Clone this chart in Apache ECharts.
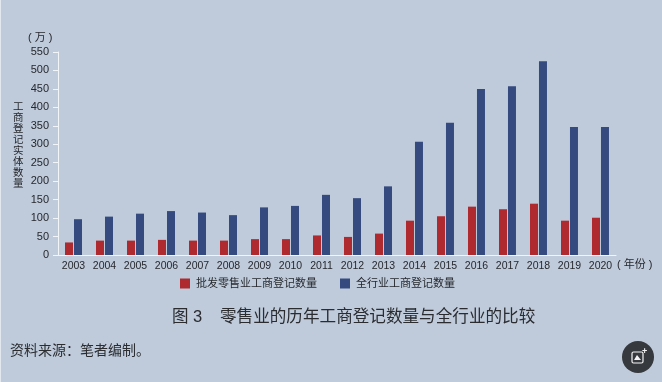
<!DOCTYPE html>
<html><head><meta charset="utf-8">
<style>html,body{margin:0;padding:0;background:#bfcbdb}#c{width:662px;height:382px}</style>
<script src="https://cdn.jsdelivr.net/npm/echarts@6/dist/echarts.min.js"></script>
</head><body><div id="c"></div>
<script>
const years=['2003','2004','2005','2006','2007','2008','2009','2010','2011','2012','2013','2014','2015','2016','2017','2018','2019','2020'];
const retail=[34,39,39,41,39,39,43,43,53,49,58,93,105,131,124,139,93,101];
const allIndustry=[97,104,112,119,115,108,129,133,163,154,186,307,358,450,457,525,347,347];
const retailName='批发零售业工商登记数量';
const allName='全行业工商登记数量';
const cjk='"Liberation Sans","Noto Sans CJK SC",sans-serif';
const ink='#26282d';
const chart=echarts.init(document.getElementById('c'),null,{renderer:'canvas'});
chart.setOption({
  animation:false,
  backgroundColor:'#bfcbdb',
  textStyle:{fontFamily:cjk},
  grid:{left:58,top:52,width:558,height:203,containLabel:false},
  legend:{left:175,top:273,itemWidth:10,itemHeight:10,itemGap:23,icon:'rect',
    textStyle:{fontFamily:cjk,fontSize:11,color:ink,padding:[0,0,0,1]},
    data:[retailName,allName]},
  xAxis:{type:'category',data:years,
    axisLine:{lineStyle:{color:'#f2f5f8',width:1}},axisTick:{show:false},
    axisLabel:{color:ink,fontSize:10.5,margin:6,interval:0,fontFamily:cjk}},
  yAxis:{type:'value',min:0,max:550,interval:50,
    axisLine:{show:true,lineStyle:{color:'#f2f5f8',width:1}},
    axisTick:{show:true,length:5,lineStyle:{color:'#f2f5f8'}},
    splitLine:{show:false},
    axisLabel:{color:ink,fontSize:11,margin:9,fontFamily:cjk}},
  series:[
    {name:retailName,type:'bar',data:retail,barWidth:8,barGap:'12%',itemStyle:{color:'#ae2a2e'}},
    {name:allName,type:'bar',data:allIndustry,barWidth:8,barGap:'12%',itemStyle:{color:'#354a7f'}}
  ],
  graphic:[
    {type:'rect',shape:{x:0,y:0,width:1,height:382},style:{fill:'#e3e8ef'}},
    {type:'text',left:28,top:32,style:{text:'( 万 )',fontFamily:cjk,fontSize:11,fill:ink}},
    {type:'text',left:13,top:102,style:{text:'工\n商\n登\n记\n实\n体\n数\n量',fontFamily:cjk,fontSize:10.5,lineHeight:10.9,fill:ink}},
    {type:'text',left:617,top:259,style:{text:'( 年份 )',fontFamily:cjk,fontSize:11,fill:ink}},
    {type:'text',left:172,top:309,style:{text:'图 3',fontFamily:cjk,fontSize:16.5,fill:'#2a2c30'}},
    {type:'text',left:220,top:309,style:{text:'零售业的历年工商登记数量与全行业的比较',fontFamily:cjk,fontSize:16.6,fill:'#2a2c30'}},
    {type:'text',left:10,top:344,style:{text:'资料来源：笔者编制。',fontFamily:cjk,fontSize:14,fill:'#2a2c30'}},
    {type:'circle',shape:{cx:638,cy:357,r:16},style:{fill:'#36393d'}},
    {type:'rect',shape:{x:632,y:352,width:11,height:11,r:1.5},style:{fill:'none',stroke:'#f5f5f5',lineWidth:1.2}},
    {type:'polygon',shape:{points:[[634,360],[637,355],[641,360]]},style:{fill:'#f5f5f5'}},
    {type:'text',left:642,top:347,style:{text:'+',fontFamily:cjk,fontSize:9,fontWeight:'bold',fill:'#f5f5f5'}}
  ]
});
</script></body></html>
